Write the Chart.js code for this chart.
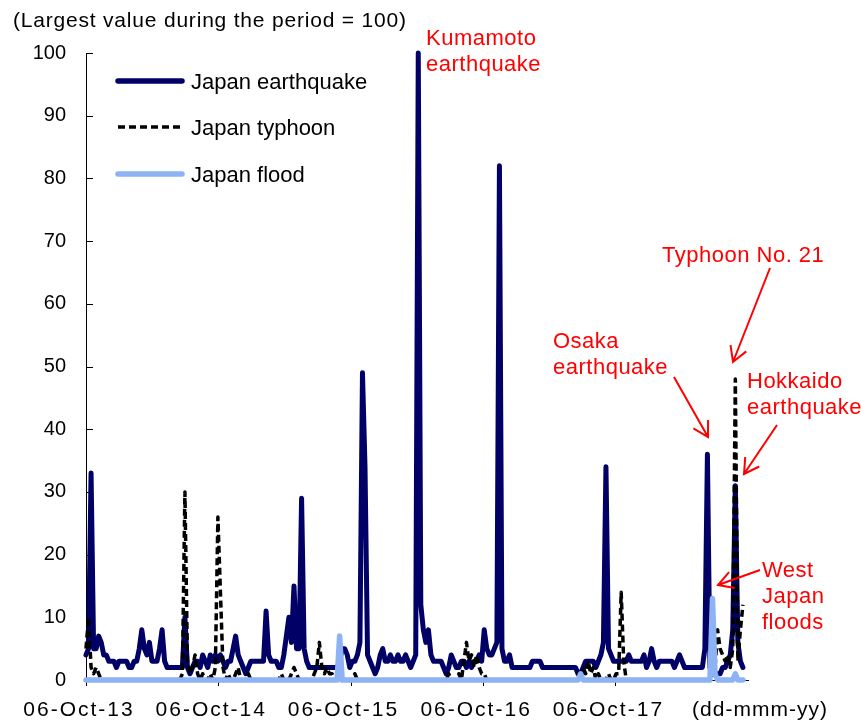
<!DOCTYPE html>
<html>
<head>
<meta charset="utf-8">
<script src="https://cdn.jsdelivr.net/npm/chart.js@4.4.1/dist/chart.umd.min.js"></script>
<style>
  html, body { margin: 0; padding: 0; background: #fff; }
  canvas { display: block; }
</style>
</head>
<body>
<canvas id="chart" width="861" height="720"></canvas>
<script>
// weekly values, week 0 = week of 06-Oct-13
const earthquake = [
  4, 5, 33, 5, 5, 7, 6, 4, 4, 3, 3, 3, 2, 3, 3, 3, 3, 2, 2, 3,
  3, 5, 8, 5, 4, 6, 3, 3, 3, 5, 8, 3, 2, 2, 2, 2, 2, 2, 2, 10,
  2, 1, 2, 3, 3, 2, 4, 3, 2, 4, 3, 4, 3, 4, 3, 2, 3, 3, 5, 7,
  4, 3, 2, 1, 2, 3, 3, 3, 3, 3, 3, 11, 4, 3, 3, 3, 2, 2, 4, 7,
  10, 6, 15, 5, 5, 29, 5, 3, 2, 2, 2, 2, 2, 2, 2, 2, 2, 2, 2, 2,
  3, 5, 5, 4, 2, 3, 3, 4, 6, 49, 34, 4, 3, 2, 1, 2, 4, 5, 3, 3,
  4, 3, 3, 4, 3, 3, 4, 3, 2, 3, 4, 100, 12, 8, 6, 8, 4, 3, 3, 3,
  3, 2, 1, 2, 4, 3, 2, 2, 3, 3, 2, 3, 2, 3, 3, 4, 3, 8, 5, 4,
  4, 5, 6, 82, 5, 3, 3, 4, 2, 2, 2, 2, 2, 2, 2, 2, 3, 3, 3, 3,
  2, 2, 2, 2, 2, 2, 2, 2, 2, 2, 2, 2, 2, 2, 1, 1, 2, 3, 3, 3,
  3, 2, 3, 4, 6, 34, 5, 4, 3, 3, 3, 3, 3, 3, 4, 3, 3, 3, 3, 3,
  4, 2, 3, 5, 3, 2, 3, 3, 3, 3, 3, 3, 2, 3, 4, 3, 2, 2, 2, 2,
  2, 2, 2, 2, 5, 36, 2, 1, 1, 1, 1, 2, 2, 3, 4, 8, 31, 6, 3, 2
];
const typhoon = [
  5, 10, 2, 1, 2, 1, 0, 0, 0, 0, 0, 0, 0, 0, 0, 0, 0, 0, 0, 0,
  0, 0, 0, 0, 0, 0, 0, 0, 0, 0, 0, 0, 0, 0, 0, 0, 0, 0, 1, 30,
  3, 1, 2, 4, 1, 0, 1, 0, 0, 1, 0, 2, 26, 14, 2, 0, 1, 0, 0, 1,
  2, 0, 0, 0, 1, 0, 0, 0, 0, 0, 0, 0, 0, 0, 0, 0, 0, 1, 0, 0,
  0, 1, 2, 1, 0, 0, 0, 0, 0, 0, 1, 2, 6, 2, 1, 2, 1, 1, 0, 0,
  1, 0, 0, 0, 0, 0, 1, 0, 0, 0, 0, 0, 0, 0, 0, 0, 0, 0, 0, 0,
  0, 0, 0, 0, 0, 0, 0, 0, 0, 0, 0, 0, 0, 0, 0, 0, 0, 0, 0, 0,
  0, 0, 0, 1, 0, 0, 0, 1, 0, 3, 6, 3, 4, 2, 4, 2, 1, 1, 0, 0,
  0, 0, 0, 0, 0, 0, 0, 0, 0, 0, 0, 0, 0, 0, 0, 0, 0, 0, 0, 0,
  0, 0, 0, 0, 0, 0, 0, 0, 0, 0, 0, 0, 0, 0, 1, 0, 2, 1, 3, 1,
  2, 0, 1, 0, 0, 0, 1, 0, 0, 1, 1, 14, 3, 0, 0, 0, 0, 0, 0, 0,
  0, 0, 0, 0, 0, 0, 0, 0, 0, 0, 0, 0, 0, 0, 0, 0, 0, 0, 0, 0,
  0, 0, 0, 0, 0, 0, 0, 1, 2, 8, 5, 4, 3, 4, 2, 5, 48, 3, 8, 12
];
const flood = [
  0, 0, 0, 0, 0, 0, 0, 0, 0, 0, 0, 0, 0, 0, 0, 0, 0, 0, 0, 0,
  0, 0, 0, 0, 0, 0, 0, 0, 0, 0, 0, 0, 0, 0, 0, 0, 0, 0, 0, 0,
  0, 0, 0, 0, 0, 0, 0, 0, 0, 0, 0, 0, 0, 0, 0, 0, 0, 0, 0, 0,
  0, 0, 0, 0, 0, 0, 0, 0, 0, 0, 0, 0, 0, 0, 0, 0, 0, 0, 0, 0,
  0, 0, 0, 0, 0, 0, 0, 0, 0, 0, 0, 0, 0, 0, 0, 0, 0, 0, 0, 0,
  7, 0, 0, 0, 0, 0, 0, 0, 0, 0, 0, 0, 0, 0, 0, 0, 0, 0, 0, 0,
  0, 0, 0, 0, 0, 0, 0, 0, 0, 0, 0, 0, 0, 0, 0, 0, 0, 0, 0, 0,
  0, 0, 0, 0, 0, 0, 0, 0, 0, 0, 0, 0, 0, 0, 0, 0, 0, 0, 0, 0,
  0, 0, 0, 0, 0, 0, 0, 0, 0, 0, 0, 0, 0, 0, 0, 0, 0, 0, 0, 0,
  0, 0, 0, 0, 0, 0, 0, 0, 0, 0, 0, 0, 0, 0, 0, 1, 0, 0, 0, 0,
  0, 0, 0, 0, 0, 0, 0, 0, 0, 0, 0, 0, 0, 0, 0, 0, 0, 0, 0, 0,
  0, 0, 0, 0, 0, 0, 0, 0, 0, 0, 0, 0, 0, 0, 0, 0, 0, 0, 0, 0,
  0, 0, 0, 0, 0, 0, 0, 13, 1, 0, 0, 0, 0, 0, 0, 0, 1, 0, 0, 0
];

// 06-Oct of each year, in weeks from the start
const tickWeeks = [0, 52.14, 104.29, 156.57, 208.71];
const tickLabels = ['06-Oct-13', '06-Oct-14', '06-Oct-15', '06-Oct-16', '06-Oct-17'];
const unitLabel = '(dd-mmm-yy)';
const yTitle = '(Largest value during the period = 100)';
const seriesNames = ['Japan earthquake', 'Japan typhoon', 'Japan flood'];

const FONT = "'Liberation Sans', Arial, sans-serif";
const NAVY = '#000066';
const LIGHT = '#8db3f5';

const notes = [
  { lines: ['Kumamoto', 'earthquake'], x: 426, y: 45 },
  { lines: ['Typhoon No. 21'], x: 662, y: 262 },
  { lines: ['Osaka', 'earthquake'], x: 553, y: 348 },
  { lines: ['Hokkaido', 'earthquake'], x: 747, y: 388 },
  { lines: ['West', 'Japan', 'floods'], x: 762, y: 577 }
];
const arrows = [
  [770, 268, 733, 362],
  [674, 377, 708, 437],
  [777, 425, 744, 474],
  [760, 570, 718, 585]
];

function toPoints(arr) {
  return arr.map((v, i) => ({ x: i, y: v }));
}

function arrow(ctx, x1, y1, x2, y2) {
  const ang = Math.atan2(y1 - y2, x1 - x2);
  const len = 17, spread = 0.52;
  ctx.beginPath();
  ctx.moveTo(x1, y1);
  ctx.lineTo(x2, y2);
  ctx.moveTo(x2 + len * Math.cos(ang - spread), y2 + len * Math.sin(ang - spread));
  ctx.lineTo(x2, y2);
  ctx.lineTo(x2 + len * Math.cos(ang + spread), y2 + len * Math.sin(ang + spread));
  ctx.stroke();
}

const decor = {
  id: 'decor',
  beforeDatasetsDraw(chart) {
    const { ctx, chartArea: a, scales: { x, y } } = chart;
    ctx.save();
    ctx.strokeStyle = '#000';
    ctx.lineWidth = 1;
    ctx.beginPath();
    for (const t of y.ticks) {
      const py = Math.round(y.getPixelForValue(t.value)) + 0.5;
      ctx.moveTo(a.left, py);
      ctx.lineTo(a.left + 7, py);
    }
    for (const w of tickWeeks) {
      const px = Math.round(x.getPixelForValue(w)) + 0.5;
      ctx.moveTo(px, a.bottom);
      ctx.lineTo(px, a.bottom + 6);
    }
    ctx.stroke();
    ctx.restore();
  },
  afterDraw(chart) {
    const { ctx, chartArea: a, scales: { x } } = chart;
    ctx.save();
    ctx.fillStyle = '#000';
    ctx.textBaseline = 'alphabetic';

    // x labels
    ctx.font = '21px ' + FONT;
    ctx.letterSpacing = '2px';
    ctx.textAlign = 'center';
    tickWeeks.forEach((w, i) => {
      const wd = ctx.measureText(tickLabels[i]).width;
      let cx = x.getPixelForValue(w) - 7;
      cx = Math.max(cx, 3 + wd / 2);
      ctx.fillText(tickLabels[i], cx, 716);
    });
    ctx.letterSpacing = '1px';
    ctx.fillText(unitLabel, a.right + 12, 716);

    // axis title
    ctx.textAlign = 'left';
    ctx.font = '21px ' + FONT;
    ctx.letterSpacing = '0.8px';
    ctx.fillText(yTitle, 13, 27);

    // legend
    const rows = [
      { y: 81, color: NAVY, width: 5.5, dash: [] },
      { y: 127, color: '#000', width: 3.5, dash: [7, 4] },
      { y: 174, color: LIGHT, width: 5.5, dash: [] }
    ];
    ctx.font = '22px ' + FONT;
    ctx.letterSpacing = '0px';
    rows.forEach((r, i) => {
      ctx.strokeStyle = r.color;
      ctx.lineWidth = r.width;
      ctx.setLineDash(r.dash);
      ctx.lineCap = r.dash.length ? 'butt' : 'round';
      ctx.beginPath();
      ctx.moveTo(118, r.y);
      ctx.lineTo(182, r.y);
      ctx.stroke();
      ctx.fillText(seriesNames[i], 191, r.y + 8);
    });
    ctx.setLineDash([]);

    // red notes
    ctx.fillStyle = '#ff0000';
    ctx.strokeStyle = '#ff0000';
    ctx.lineWidth = 2;
    ctx.lineCap = 'butt';
    ctx.font = '22px ' + FONT;
    ctx.letterSpacing = '0.5px';
    notes.forEach(n => {
      n.lines.forEach((t, j) => ctx.fillText(t, n.x, n.y + j * 26));
    });
    arrows.forEach(p => arrow(ctx, p[0], p[1], p[2], p[3]));
    ctx.restore();
  }
};

Chart.defaults.font.family = FONT;

new Chart(document.getElementById('chart'), {
  type: 'line',
  data: {
    datasets: [
      {
        label: seriesNames[0],
        data: toPoints(earthquake),
        borderColor: NAVY,
        borderWidth: 5,
        borderJoinStyle: 'round',
        borderCapStyle: 'round',
        pointRadius: 0,
        tension: 0,
        clip: false,
        order: 3
      },
      {
        label: seriesNames[1],
        data: toPoints(typhoon),
        borderColor: '#000',
        borderWidth: 3.5,
        borderDash: [7, 4],
        borderJoinStyle: 'round',
        pointRadius: 0,
        tension: 0,
        clip: false,
        order: 2
      },
      {
        label: seriesNames[2],
        data: toPoints(flood),
        borderColor: LIGHT,
        borderWidth: 5.5,
        borderJoinStyle: 'round',
        borderCapStyle: 'round',
        pointRadius: 0,
        tension: 0,
        clip: false,
        order: 1
      }
    ]
  },
  options: {
    responsive: false,
    devicePixelRatio: 1,
    animation: false,
    events: [],
    layout: { padding: { top: 53, right: 113, bottom: 0, left: 0 } },
    plugins: {
      legend: { display: false },
      tooltip: { enabled: false }
    },
    scales: {
      x: {
        type: 'linear',
        min: 0,
        max: 261,
        grid: { display: false, drawTicks: false },
        border: { display: true, color: '#000', width: 1 },
        ticks: { display: false },
        afterFit(scale) { scale.height = 40; }
      },
      y: {
        min: 0,
        max: 100,
        grid: { display: false, drawTicks: false },
        border: { display: true, color: '#000', width: 1 },
        ticks: {
          stepSize: 10,
          autoSkip: false,
          padding: 20,
          color: '#000',
          font: { size: 20, family: FONT }
        },
        afterFit(scale) { scale.width = 86; }
      }
    }
  },
  plugins: [decor]
});
</script>
</body>
</html>
